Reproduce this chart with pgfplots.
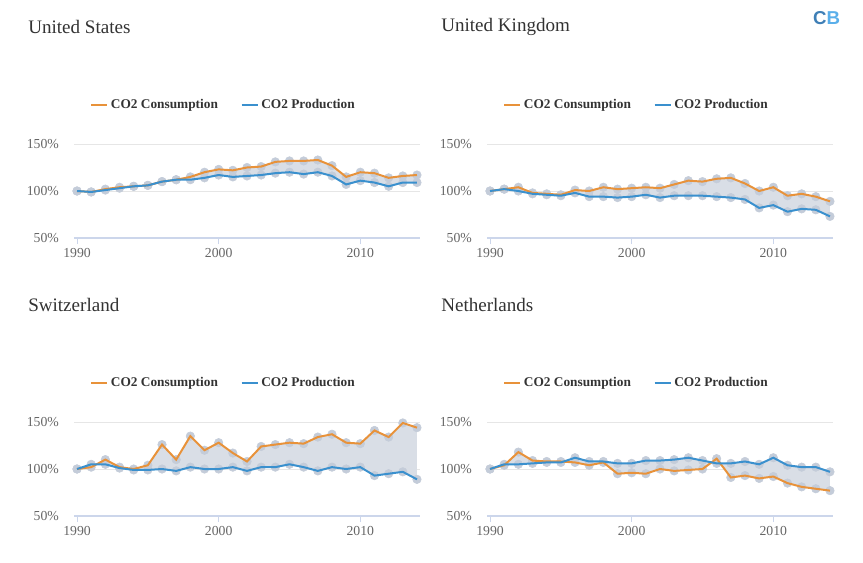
\documentclass[border=0pt]{standalone}
\usepackage{fontspec}
\setmainfont{Liberation Serif}
\newfontfamily\logofont{Liberation Sans}
\usepackage{pgfplots}
\usepackage{pgfplotstable}
\usepgfplotslibrary{fillbetween}
\pgfplotsset{compat=1.18}

\definecolor{cons}{HTML}{E8923A}
\definecolor{prod}{HTML}{3A90CE}
\definecolor{band}{HTML}{D9DEE6}
\definecolor{dot}{HTML}{C4CCD9}
\definecolor{axisc}{HTML}{CCD6EB}
\definecolor{gridc}{HTML}{E6E6E6}
\definecolor{txt}{HTML}{666666}
\definecolor{ttl}{HTML}{333333}

% index 1990 = 100%, c = consumption, p = production
\pgfplotstableread{
year c   p
1990 100 100
1991 99  99
1992 102 101
1993 104 103
1994 105 105
1995 106 106
1996 110 110
1997 112 112
1998 115 112
1999 120 114
2000 123 117
2001 122 115
2002 125 116
2003 126 117
2004 131 119
2005 132 120
2006 132 118
2007 133 120
2008 127 116
2009 115 107
2010 120 111
2011 119 109
2012 114 105
2013 116 109
2014 117 109
}\us

\pgfplotstableread{
year c   p
1990 100 100
1991 102 102
1992 104 100
1993 98  97
1994 97  96
1995 96  95
1996 101 98
1997 100 94
1998 104 94
1999 102 93
2000 103 94
2001 104 96
2002 103 93
2003 107 95
2004 111 95
2005 110 95
2006 113 94
2007 114 93
2008 108 91
2009 100 82
2010 104 85
2011 95  78
2012 97  81
2013 94  80
2014 89  73
}\uk

\pgfplotstableread{
year c   p
1990 100 100
1991 102 105
1992 110 105
1993 102 101
1994 100 99
1995 104 99
1996 126 100
1997 110 98
1998 135 102
1999 120 100
2000 128 100
2001 117 102
2002 108 98
2003 124 102
2004 126 102
2005 128 105
2006 127 102
2007 134 98
2008 137 102
2009 128 100
2010 127 102
2011 141 93
2012 134 95
2013 149 97
2014 144 89
}\ch

\pgfplotstableread{
year c   p
1990 100 100
1991 104 105
1992 118 105
1993 109 106
1994 108 107
1995 108 107
1996 107 112
1997 104 108
1998 107 108
1999 95  106
2000 96  106
2001 95  109
2002 100 109
2003 98  110
2004 99  112
2005 100 109
2006 111 106
2007 91  106
2008 93  108
2009 90  105
2010 92  112
2011 85  104
2012 81  102
2013 79  102
2014 77  97
}\nl

\pgfplotsset{
  cbpanel/.style={
    set layers,
    scale only axis,
    width=259.2pt, height=70.5pt,
    anchor=north west,
    xmin=1989.8, xmax=2014.2,
    ymin=50, ymax=150,
    clip=false,
    axis x line*=bottom, axis y line*=left,
    y axis line style={draw=none},
    x axis line style={axisc, line width=0.9pt},
    xtick={1990,2000,2010},
    ytick={50,100,150},
    xtick align=outside,
    major tick length=4.5pt,
    xtick style={axisc, line width=0.75pt},
    ytick style={draw=none},
    ymajorgrids,
    grid style={gridc, line width=0.75pt},
    yticklabel={\pgfmathprintnumber{\tick}\%},
    /pgf/number format/assume math mode=true,
    /pgf/number format/1000 sep={},
    tick label style={font=\fontsize{10.3}{12}\selectfont, text=txt},
    yticklabel style={xshift=-8pt},
    legend columns=2,
    legend style={draw=none, fill=none, at={(0.433,1.415)}, anchor=center,
      font=\bfseries\fontsize{10}{12}\selectfont, text=ttl,
      /tikz/every even column/.append style={column sep=15pt}},
    legend image code/.code={\draw[#1] (0pt,0pt) -- (12pt,0pt);},
  },
  dots/.style={dot, only marks, mark=*, mark size=3.2pt, forget plot},
}

\newcommand{\panelplots}[1]{%
  \addplot[draw=none, name path=c, forget plot] table[x=year, y=c] {#1};
  \addplot[draw=none, name path=p, forget plot] table[x=year, y=p] {#1};
  \addplot[band, forget plot] fill between[of=c and p];
  \addplot[dots] table[x=year, y=c] {#1};
  \addplot[dots] table[x=year, y=p] {#1};
  \addplot[cons, line width=1.5pt, no marks, on layer=axis foreground] table[x=year, y=c] {#1};
  \addlegendentry{CO2 Consumption}
  \addplot[prod, line width=1.5pt, no marks, on layer=axis foreground] table[x=year, y=p] {#1};
  \addlegendentry{CO2 Production}
}

\begin{document}
\begin{tikzpicture}
  \path (0pt,0pt) rectangle (647.25pt,-421.5pt);

  \begin{axis}[cbpanel, at={(55.65pt,-108pt)}]
    \panelplots{\us}
  \end{axis}
  \begin{axis}[cbpanel, at={(365.4pt,-108pt)}]
    \panelplots{\uk}
  \end{axis}
  \begin{axis}[cbpanel, at={(55.65pt,-316.5pt)}]
    \panelplots{\ch}
  \end{axis}
  \begin{axis}[cbpanel, at={(365.4pt,-316.5pt)}]
    \panelplots{\nl}
  \end{axis}

  \begin{scope}[every node/.style={anchor=west, inner sep=0pt, text=ttl, font=\fontsize{14.3}{16}\selectfont}]
    \node at (21pt,-20.25pt) {United States};
    \node at (330.75pt,-20.25pt) {United Kingdom};
    \node at (21pt,-228.75pt) {Switzerland};
    \node at (330.75pt,-228.75pt) {Netherlands};
  \end{scope}

  \node[anchor=center, inner sep=0pt, font=\logofont\bfseries\fontsize{14}{16}\selectfont]
    at (620pt,-13.5pt) {\textcolor[HTML]{3F7FB6}{C}\textcolor[HTML]{5AAFEA}{B}};
\end{tikzpicture}
\end{document}
